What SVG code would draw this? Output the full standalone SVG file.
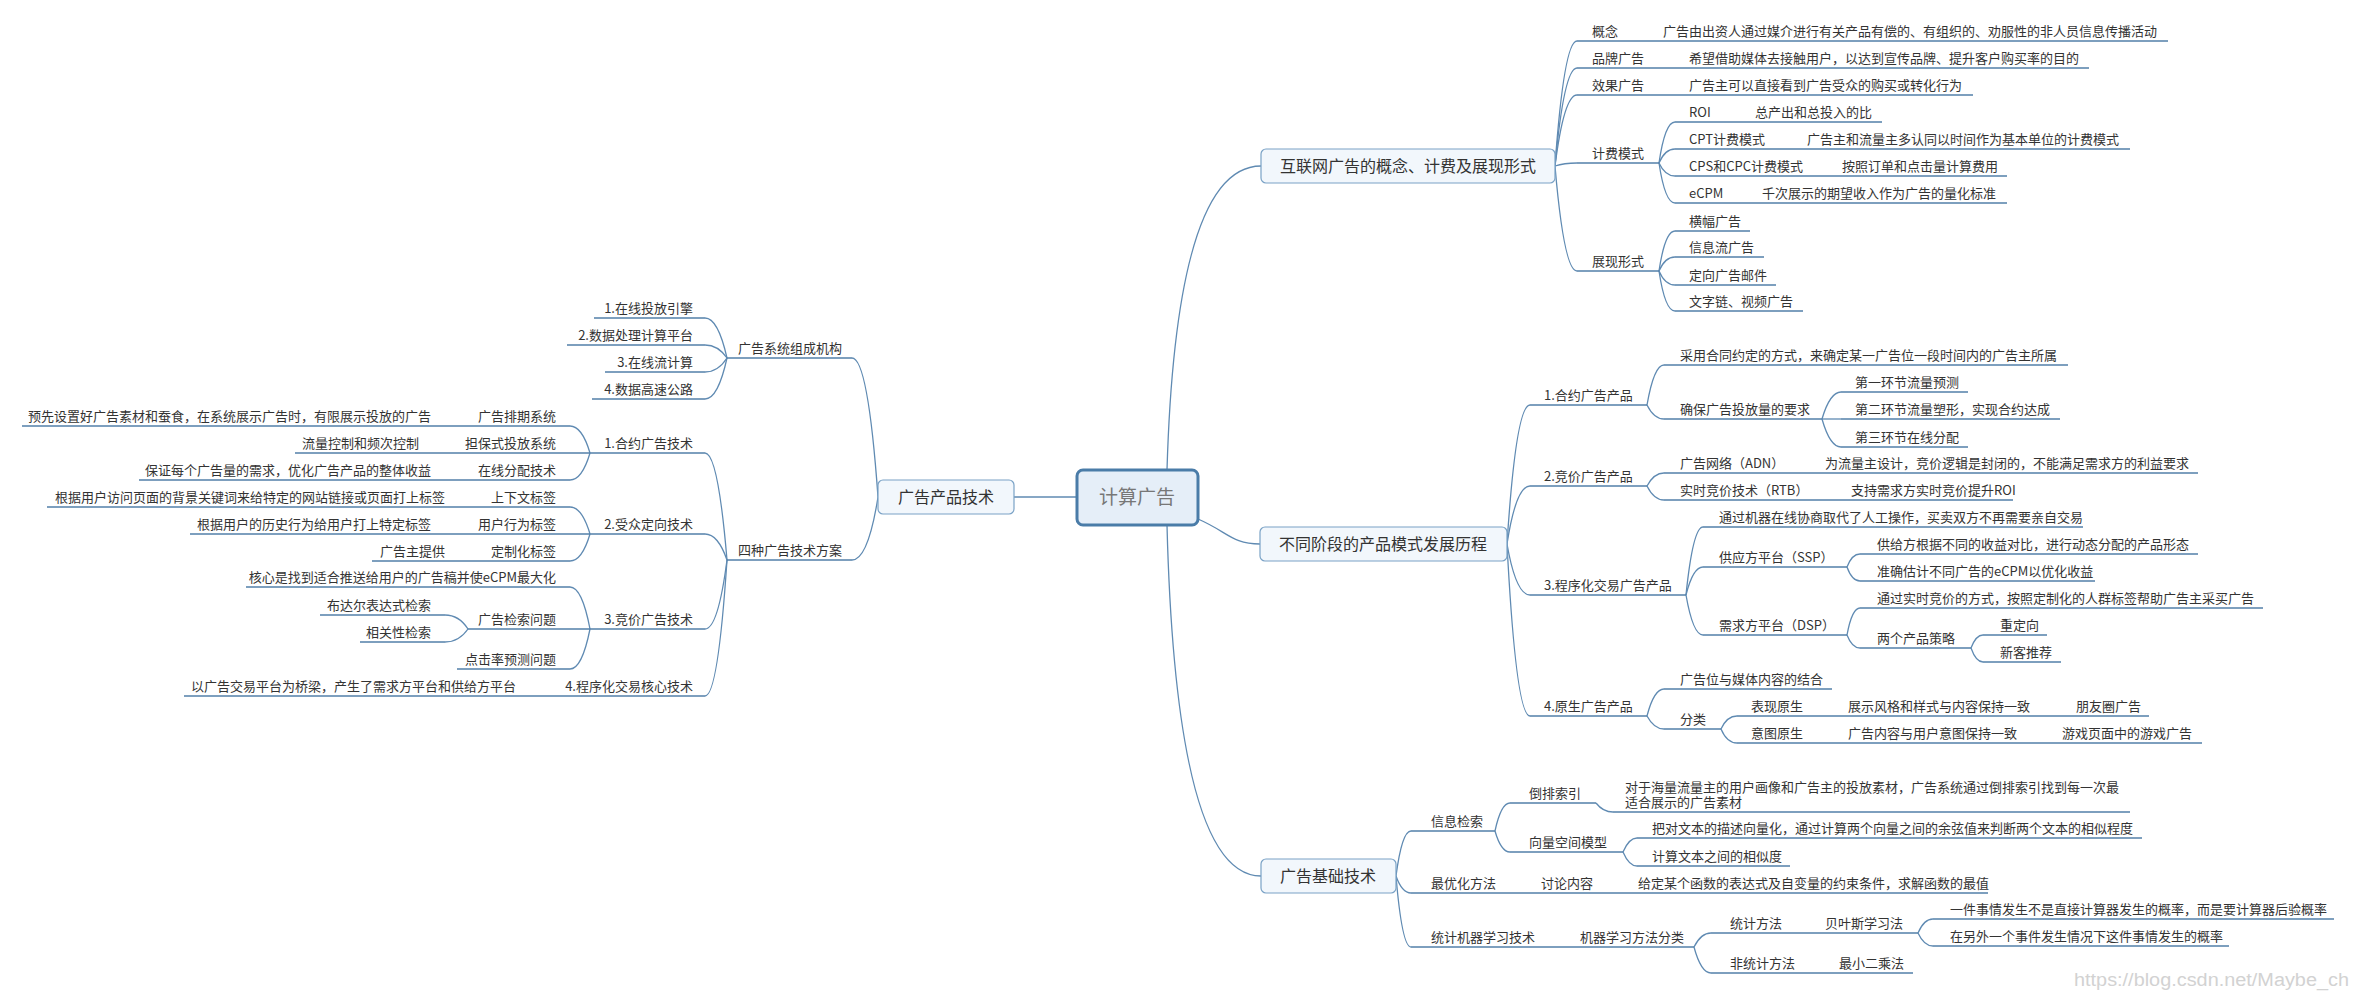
<svg xmlns="http://www.w3.org/2000/svg" width="2356" height="996" viewBox="0 0 2356 996">
<style>
text{font-family:"Noto Sans CJK SC","Noto Sans",sans-serif;fill:#333}
.t{font-size:13px}
.e{font-size:13px;text-anchor:end}
.n{font-size:16px;text-anchor:middle}
.u{stroke:#527fa8;stroke-width:1.4;fill:none}
.c path{stroke:#5f8ab2;stroke-width:1.3;fill:none}
.b{fill:#f2f7fc;stroke:#7aa2c6;stroke-width:1.2}
.wm{font-family:"Liberation Sans",sans-serif;font-size:18px;fill:#d2d2d2}
</style>
<rect width="2356" height="996" fill="#ffffff"/>
<g id="connectors" class="c">
<path d="M1014 497 L1077 497"/>
<path d="M1167 470 Q1176 166 1261 166"/>
<path d="M1198 519 C1228 532 1232 544 1260 544"/>
<path d="M1167 525 Q1176 876 1261 876"/>
<path d="M878 497 Q868 358 852 358"/>
<path d="M878 497 Q868 560 852 560"/>
<path d="M727 358 Q718 318 705 318"/><path d="M727 358 Q718 345 705 345"/><path d="M727 358 Q718 372 705 372"/><path d="M727 358 Q718 399 705 399"/>
<path d="M727 560 Q718 453 705 453"/><path d="M727 560 Q718 534 705 534"/><path d="M727 560 Q718 629 705 629"/><path d="M727 560 Q718 696 705 696"/>
<path d="M590 453 Q582 426 570 426"/><path d="M590 453 Q582 480 570 480"/>
<path d="M590 534 Q582 507 570 507"/><path d="M590 534 Q582 561 570 561"/>
<path d="M590 629 Q582 587 570 587"/><path d="M590 629 Q582 669 570 669"/>
<path d="M468 629 Q459 615 445 615"/><path d="M468 629 Q459 642 445 642"/>
<path d="M1555 166 Q1564 41 1577 41"/><path d="M1555 166 Q1564 68 1577 68"/><path d="M1555 166 Q1564 95 1577 95"/><path d="M1555 166 Q1564 163 1577 163"/><path d="M1555 166 Q1564 271 1577 271"/>
<path d="M1659 163 Q1665 122 1675 122"/><path d="M1659 163 Q1665 149 1675 149"/><path d="M1659 163 Q1665 176 1675 176"/><path d="M1659 163 Q1665 203 1675 203"/>
<path d="M1659 271 Q1665 231 1675 231"/><path d="M1659 271 Q1665 257 1675 257"/><path d="M1659 271 Q1665 285 1675 285"/><path d="M1659 271 Q1665 311 1675 311"/>
<path d="M1507 544 Q1516 405 1530 405"/><path d="M1507 544 Q1516 486 1530 486"/><path d="M1507 544 Q1516 595 1530 595"/><path d="M1507 544 Q1516 716 1530 716"/>
<path d="M1647 405 Q1654 365 1664 365"/><path d="M1647 405 Q1654 419 1664 419"/>
<path d="M1822 419 Q1830 392 1841 392"/><path d="M1822 419 L1841 419"/><path d="M1822 419 Q1830 447 1841 447"/>
<path d="M1647 486 Q1654 473 1664 473"/><path d="M1647 486 Q1654 500 1664 500"/>
<path d="M1686 595 Q1693 527 1703 527"/><path d="M1686 595 Q1693 567 1703 567"/><path d="M1686 595 Q1693 635 1703 635"/>
<path d="M1847 567 Q1852 554 1860 554"/><path d="M1847 567 Q1852 581 1860 581"/>
<path d="M1847 635 Q1852 608 1860 608"/><path d="M1847 635 Q1852 648 1860 648"/>
<path d="M1971 648 Q1976 635 1983 635"/><path d="M1971 648 Q1976 662 1983 662"/>
<path d="M1647 716 Q1654 689 1664 689"/><path d="M1647 716 Q1654 729 1664 729"/>
<path d="M1721 729 Q1727 716 1737 716"/><path d="M1721 729 Q1727 743 1737 743"/>
<path d="M1396 876 Q1402 831 1411 831"/><path d="M1396 876 Q1402 893 1411 893"/><path d="M1396 876 Q1402 947 1411 947"/>
<path d="M1495 831 Q1501 803 1510 803"/><path d="M1495 831 Q1501 852 1510 852"/>
<path d="M1596 803 Q1603 812 1613 812"/>
<path d="M1623 852 Q1629 838 1637 838"/><path d="M1623 852 Q1629 866 1637 866"/>
<path d="M1694 947 Q1701 933 1711 933"/><path d="M1694 947 Q1701 973 1711 973"/>
<path d="M1918 933 Q1924 919 1933 919"/><path d="M1918 933 Q1924 946 1933 946"/>
</g>

<g id="root"><rect x="1077" y="470" width="121" height="55" rx="6" fill="#e5eef8" stroke="#4a7ca8" stroke-width="3"/><text x="1137" y="504" style="font-size:19px;text-anchor:middle;fill:#777">计算广告</text></g>

<g id="n-internet"><rect class="b" x="1261" y="149" width="294" height="34" rx="5"/><text class="n" x="1408" y="172">互联网广告的概念、计费及展现形式</text></g>
<g id="n-stages"><rect class="b" x="1260" y="527" width="247" height="34" rx="5"/><text class="n" x="1383" y="550">不同阶段的产品模式发展历程</text></g>
<g id="n-basic"><rect class="b" x="1261" y="859" width="135" height="34" rx="5"/><text class="n" x="1328" y="882">广告基础技术</text></g>
<g id="n-product"><rect class="b" x="878" y="480" width="136" height="34" rx="5"/><text class="n" x="946" y="503">广告产品技术</text></g>

<!-- top right branch -->
<g id="n-concept"><line class="u" x1="1577" y1="41" x2="2168" y2="41"/><text class="t" x="1592" y="36">概念</text><text class="t" x="1663" y="36">广告由出资人通过媒介进行有关产品有偿的、有组织的、劝服性的非人员信息传播活动</text></g>
<g id="n-brand"><line class="u" x1="1577" y1="68" x2="2089" y2="68"/><text class="t" x="1592" y="63">品牌广告</text><text class="t" x="1689" y="63">希望借助媒体去接触用户，以达到宣传品牌、提升客户购买率的目的</text></g>
<g id="n-effect"><line class="u" x1="1577" y1="95" x2="1973" y2="95"/><text class="t" x="1592" y="90">效果广告</text><text class="t" x="1689" y="90">广告主可以直接看到广告受众的购买或转化行为</text></g>
<g id="n-billing"><line class="u" x1="1577" y1="163" x2="1659" y2="163"/><text class="t" x="1592" y="158">计费模式</text></g>
<g id="n-roi"><line class="u" x1="1675" y1="122" x2="1882" y2="122"/><text class="t" x="1689" y="117">ROI</text><text class="t" x="1755" y="117">总产出和总投入的比</text></g>
<g id="n-cpt"><line class="u" x1="1675" y1="149" x2="2130" y2="149"/><text class="t" x="1689" y="144">CPT计费模式</text><text class="t" x="1807" y="144">广告主和流量主多认同以时间作为基本单位的计费模式</text></g>
<g id="n-cps"><line class="u" x1="1675" y1="176" x2="2007" y2="176"/><text class="t" x="1689" y="171">CPS和CPC计费模式</text><text class="t" x="1842" y="171">按照订单和点击量计算费用</text></g>
<g id="n-ecpm"><line class="u" x1="1675" y1="203" x2="2007" y2="203"/><text class="t" x="1689" y="198">eCPM</text><text class="t" x="1762" y="198">千次展示的期望收入作为广告的量化标准</text></g>
<g id="n-display"><line class="u" x1="1577" y1="271" x2="1659" y2="271"/><text class="t" x="1592" y="266">展现形式</text></g>
<g id="n-banner"><line class="u" x1="1675" y1="231" x2="1750" y2="231"/><text class="t" x="1689" y="226">横幅广告</text></g>
<g id="n-feed"><line class="u" x1="1675" y1="257" x2="1764" y2="257"/><text class="t" x="1689" y="252">信息流广告</text></g>
<g id="n-mail"><line class="u" x1="1675" y1="285" x2="1776" y2="285"/><text class="t" x="1689" y="280">定向广告邮件</text></g>
<g id="n-text"><line class="u" x1="1675" y1="311" x2="1803" y2="311"/><text class="t" x="1689" y="306">文字链、视频广告</text></g>

<!-- middle right branch -->
<g id="n-contract"><line class="u" x1="1530" y1="405" x2="1647" y2="405"/><text class="t" x="1544" y="400">1.合约广告产品</text></g>
<g id="n-contract-a"><line class="u" x1="1664" y1="365" x2="2068" y2="365"/><text class="t" x="1680" y="360">采用合同约定的方式，来确定某一广告位一段时间内的广告主所属</text></g>
<g id="n-contract-b"><line class="u" x1="1664" y1="419" x2="1822" y2="419"/><text class="t" x="1680" y="414">确保广告投放量的要求</text></g>
<g id="n-step1"><line class="u" x1="1841" y1="392" x2="1968" y2="392"/><text class="t" x="1855" y="387">第一环节流量预测</text></g>
<g id="n-step2"><line class="u" x1="1841" y1="419" x2="2060" y2="419"/><text class="t" x="1855" y="414">第二环节流量塑形，实现合约达成</text></g>
<g id="n-step3"><line class="u" x1="1841" y1="447" x2="1968" y2="447"/><text class="t" x="1855" y="442">第三环节在线分配</text></g>
<g id="n-bid"><line class="u" x1="1530" y1="486" x2="1647" y2="486"/><text class="t" x="1544" y="481">2.竞价广告产品</text></g>
<g id="n-adn"><line class="u" x1="1664" y1="473" x2="2198" y2="473"/><text class="t" x="1680" y="468">广告网络（ADN）</text><text class="t" x="1825" y="468">为流量主设计，竞价逻辑是封闭的，不能满足需求方的利益要求</text></g>
<g id="n-rtb"><line class="u" x1="1664" y1="500" x2="2013" y2="500"/><text class="t" x="1680" y="495">实时竞价技术（RTB）</text><text class="t" x="1851" y="495">支持需求方实时竞价提升ROI</text></g>
<g id="n-prog"><line class="u" x1="1530" y1="595" x2="1686" y2="595"/><text class="t" x="1544" y="590">3.程序化交易广告产品</text></g>
<g id="n-prog-a"><line class="u" x1="1703" y1="527" x2="2083" y2="527"/><text class="t" x="1719" y="522">通过机器在线协商取代了人工操作，买卖双方不再需要亲自交易</text></g>
<g id="n-ssp"><line class="u" x1="1703" y1="567" x2="1847" y2="567"/><text class="t" x="1719" y="562">供应方平台（SSP）</text></g>
<g id="n-ssp-a"><line class="u" x1="1860" y1="554" x2="2198" y2="554"/><text class="t" x="1877" y="549">供给方根据不同的收益对比，进行动态分配的产品形态</text></g>
<g id="n-ssp-b"><line class="u" x1="1860" y1="581" x2="2095" y2="581"/><text class="t" x="1877" y="576">准确估计不同广告的eCPM以优化收益</text></g>
<g id="n-dsp"><line class="u" x1="1703" y1="635" x2="1847" y2="635"/><text class="t" x="1719" y="630">需求方平台（DSP）</text></g>
<g id="n-dsp-a"><line class="u" x1="1860" y1="608" x2="2263" y2="608"/><text class="t" x="1877" y="603">通过实时竞价的方式，按照定制化的人群标签帮助广告主采买广告</text></g>
<g id="n-dsp-b"><line class="u" x1="1860" y1="648" x2="1971" y2="648"/><text class="t" x="1877" y="643">两个产品策略</text></g>
<g id="n-retarget"><line class="u" x1="1983" y1="635" x2="2047" y2="635"/><text class="t" x="2000" y="630">重定向</text></g>
<g id="n-newcust"><line class="u" x1="1983" y1="662" x2="2061" y2="662"/><text class="t" x="2000" y="657">新客推荐</text></g>
<g id="n-native"><line class="u" x1="1530" y1="716" x2="1647" y2="716"/><text class="t" x="1544" y="711">4.原生广告产品</text></g>
<g id="n-native-a"><line class="u" x1="1664" y1="689" x2="1832" y2="689"/><text class="t" x="1680" y="684">广告位与媒体内容的结合</text></g>
<g id="n-native-b"><line class="u" x1="1664" y1="729" x2="1721" y2="729"/><text class="t" x="1680" y="724">分类</text></g>
<g id="n-native-c"><line class="u" x1="1737" y1="716" x2="2149" y2="716"/><text class="t" x="1751" y="711">表现原生</text><text class="t" x="1848" y="711">展示风格和样式与内容保持一致</text><text class="t" x="2076" y="711">朋友圈广告</text></g>
<g id="n-native-d"><line class="u" x1="1737" y1="743" x2="2202" y2="743"/><text class="t" x="1751" y="738">意图原生</text><text class="t" x="1848" y="738">广告内容与用户意图保持一致</text><text class="t" x="2062" y="738">游戏页面中的游戏广告</text></g>

<!-- bottom right branch -->
<g id="n-ir"><line class="u" x1="1411" y1="831" x2="1495" y2="831"/><text class="t" x="1431" y="826">信息检索</text></g>
<g id="n-inv"><line class="u" x1="1510" y1="803" x2="1596" y2="803"/><text class="t" x="1529" y="798">倒排索引</text></g>
<g id="n-inv-a"><line class="u" x1="1613" y1="812" x2="2130" y2="812"/><text class="t" x="1625" y="792">对于海量流量主的用户画像和广告主的投放素材，广告系统通过倒排索引找到每一次最</text><text class="t" x="1625" y="807">适合展示的广告素材</text></g>
<g id="n-vsm"><line class="u" x1="1510" y1="852" x2="1623" y2="852"/><text class="t" x="1529" y="847">向量空间模型</text></g>
<g id="n-vsm-a"><line class="u" x1="1637" y1="838" x2="2142" y2="838"/><text class="t" x="1652" y="833">把对文本的描述向量化，通过计算两个向量之间的余弦值来判断两个文本的相似程度</text></g>
<g id="n-vsm-b"><line class="u" x1="1637" y1="866" x2="1790" y2="866"/><text class="t" x="1652" y="861">计算文本之间的相似度</text></g>
<g id="n-opt"><line class="u" x1="1411" y1="893" x2="1988" y2="893"/><text class="t" x="1431" y="888">最优化方法</text><text class="t" x="1541" y="888">讨论内容</text><text class="t" x="1638" y="888">给定某个函数的表达式及自变量的约束条件，求解函数的最值</text></g>
<g id="n-sml"><line class="u" x1="1411" y1="947" x2="1694" y2="947"/><text class="t" x="1431" y="942">统计机器学习技术</text><text class="t" x="1580" y="942">机器学习方法分类</text></g>
<g id="n-stat"><line class="u" x1="1711" y1="933" x2="1918" y2="933"/><text class="t" x="1730" y="928">统计方法</text><text class="t" x="1825" y="928">贝叶斯学习法</text></g>
<g id="n-bayes-a"><line class="u" x1="1933" y1="919" x2="2334" y2="919"/><text class="t" x="1950" y="914">一件事情发生不是直接计算器发生的概率，而是要计算器后验概率</text></g>
<g id="n-bayes-b"><line class="u" x1="1933" y1="946" x2="2229" y2="946"/><text class="t" x="1950" y="941">在另外一个事件发生情况下这件事情发生的概率</text></g>
<g id="n-nonstat"><line class="u" x1="1711" y1="973" x2="1913" y2="973"/><text class="t" x="1730" y="968">非统计方法</text><text class="t" x="1839" y="968">最小二乘法</text></g>

<!-- left branch -->
<g id="n-system"><line class="u" x1="727" y1="358" x2="852" y2="358"/><text class="t" x="738" y="353">广告系统组成机构</text></g>
<g id="n-sys1"><line class="u" x1="594" y1="318" x2="705" y2="318"/><text class="e" x="693" y="313">1.在线投放引擎</text></g>
<g id="n-sys2"><line class="u" x1="567" y1="345" x2="705" y2="345"/><text class="e" x="693" y="340">2.数据处理计算平台</text></g>
<g id="n-sys3"><line class="u" x1="605" y1="372" x2="705" y2="372"/><text class="e" x="693" y="367">3.在线流计算</text></g>
<g id="n-sys4"><line class="u" x1="592" y1="399" x2="705" y2="399"/><text class="e" x="693" y="394">4.数据高速公路</text></g>
<g id="n-four"><line class="u" x1="727" y1="560" x2="852" y2="560"/><text class="t" x="738" y="555">四种广告技术方案</text></g>
<g id="n-l-contract"><line class="u" x1="590" y1="453" x2="705" y2="453"/><text class="e" x="693" y="448">1.合约广告技术</text></g>
<g id="n-l-sched"><line class="u" x1="22" y1="426" x2="570" y2="426"/><text class="e" x="556" y="421">广告排期系统</text><text class="e" x="431" y="421">预先设置好广告素材和蚕食，在系统展示广告时，有限展示投放的广告</text></g>
<g id="n-l-guar"><line class="u" x1="295" y1="453" x2="590" y2="453"/><text class="e" x="556" y="448">担保式投放系统</text><text class="e" x="419" y="448">流量控制和频次控制</text></g>
<g id="n-l-alloc"><line class="u" x1="139" y1="480" x2="570" y2="480"/><text class="e" x="556" y="475">在线分配技术</text><text class="e" x="431" y="475">保证每个广告量的需求，优化广告产品的整体收益</text></g>
<g id="n-l-target"><line class="u" x1="590" y1="534" x2="705" y2="534"/><text class="e" x="693" y="529">2.受众定向技术</text></g>
<g id="n-l-ctx"><line class="u" x1="47" y1="507" x2="570" y2="507"/><text class="e" x="556" y="502">上下文标签</text><text class="e" x="445" y="502">根据用户访问页面的背景关键词来给特定的网站链接或页面打上标签</text></g>
<g id="n-l-beh"><line class="u" x1="190" y1="534" x2="590" y2="534"/><text class="e" x="556" y="529">用户行为标签</text><text class="e" x="431" y="529">根据用户的历史行为给用户打上特定标签</text></g>
<g id="n-l-cust"><line class="u" x1="372" y1="561" x2="570" y2="561"/><text class="e" x="556" y="556">定制化标签</text><text class="e" x="445" y="556">广告主提供</text></g>
<g id="n-l-bid"><line class="u" x1="590" y1="629" x2="705" y2="629"/><text class="e" x="693" y="624">3.竞价广告技术</text></g>
<g id="n-l-core"><line class="u" x1="246" y1="587" x2="570" y2="587"/><text class="e" x="556" y="582">核心是找到适合推送给用户的广告稿并使eCPM最大化</text></g>
<g id="n-l-search"><line class="u" x1="468" y1="629" x2="590" y2="629"/><text class="e" x="556" y="624">广告检索问题</text></g>
<g id="n-l-bool"><line class="u" x1="320" y1="615" x2="445" y2="615"/><text class="e" x="431" y="610">布达尔表达式检索</text></g>
<g id="n-l-rel"><line class="u" x1="360" y1="642" x2="445" y2="642"/><text class="e" x="431" y="637">相关性检索</text></g>
<g id="n-l-ctr"><line class="u" x1="457" y1="669" x2="570" y2="669"/><text class="e" x="556" y="664">点击率预测问题</text></g>
<g id="n-l-prog"><line class="u" x1="184" y1="696" x2="705" y2="696"/><text class="e" x="693" y="691">4.程序化交易核心技术</text><text class="e" x="516" y="691">以广告交易平台为桥梁，产生了需求方平台和供给方平台</text></g>

<text class="wm" x="2074" y="986" textLength="275" lengthAdjust="spacingAndGlyphs">https://blog.csdn.net/Maybe_ch</text>
</svg>
